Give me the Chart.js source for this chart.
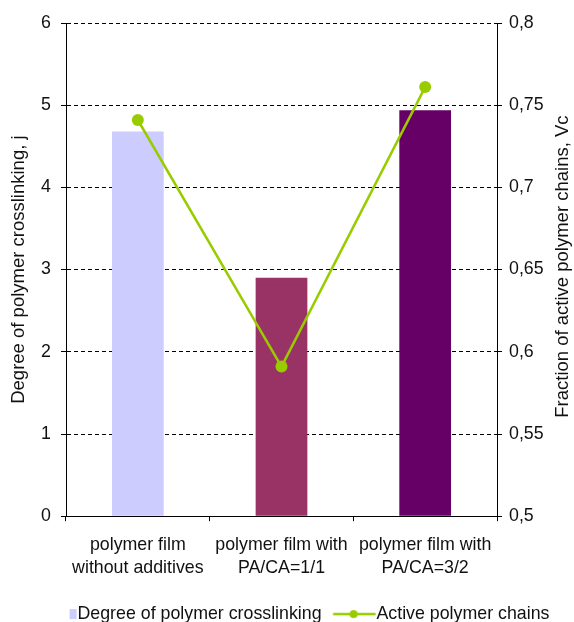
<!DOCTYPE html>
<html>
<head>
<meta charset="utf-8">
<script src="https://cdn.jsdelivr.net/npm/chart.js@4"></script>
<style>
  html, body { margin: 0; padding: 0; background: #fff; }
  #chart { display: block; }
</style>
</head>
<body>
<canvas id="chart" width="574" height="622"></canvas>
<script>
// Categories (two-line axis labels)
const categories = [
  ['polymer film', 'without additives'],
  ['polymer film with', 'PA/CA=1/1'],
  ['polymer film with', 'PA/CA=3/2']
];
// Degree of polymer crosslinking, j (left axis)
const crosslinking = [4.68, 2.90, 4.94];
// Fraction of active polymer chains, Vc (right axis)
const activeChains = [0.741, 0.591, 0.761];

const leftTickValues = [0, 1, 2, 3, 4, 5, 6];
const leftTickLabels = ['0', '1', '2', '3', '4', '5', '6'];
const rightTickValues = [0.5, 0.55, 0.6, 0.65, 0.7, 0.75, 0.8];
const rightTickLabels = ['0,5', '0,55', '0,6', '0,65', '0,7', '0,75', '0,8'];

const seriesNames = ['Degree of polymer crosslinking', 'Active polymer chains'];
const leftTitle = 'Degree of polymer crosslinking, j';
const rightTitle = 'Fraction of active polymer chains, Vc';

const barColors = ['#CCCCFF', '#993366', '#660066'];
const lineColor = '#99CC00';
const textColor = '#111';
const FONT = "'Liberation Sans', Arial, sans-serif";

Chart.defaults.font.family = FONT;
Chart.defaults.color = textColor;

// Legend swatches drawn on small offscreen canvases
function makeSwatch(draw) {
  const c = document.createElement('canvas');
  c.width = 64; c.height = 14;
  draw(c.getContext('2d'));
  return c;
}
const barSwatch = makeSwatch(g => {
  g.fillStyle = barColors[0];
  g.fillRect(55, 2, 7, 10);
});
const lineSwatch = makeSwatch(g => {
  g.strokeStyle = lineColor;
  g.lineWidth = 2.5;
  g.beginPath(); g.moveTo(19.5, 7); g.lineTo(62, 7); g.stroke();
  g.fillStyle = lineColor;
  g.beginPath(); g.arc(40, 7, 4, 0, Math.PI * 2); g.fill();
});

// Right-hand axis title, read bottom-to-top
const rightTitlePlugin = {
  id: 'rightTitle',
  afterDraw(chart) {
    const { ctx, chartArea } = chart;
    ctx.save();
    ctx.font = '18.5px ' + FONT;
    ctx.fillStyle = textColor;
    ctx.textAlign = 'center';
    ctx.textBaseline = 'middle';
    ctx.translate(563, (chartArea.top + chartArea.bottom) / 2 - 3);
    ctx.rotate(-Math.PI / 2);
    ctx.fillText(rightTitle, 0, 0);
    ctx.restore();
  }
};

new Chart(document.getElementById('chart'), {
  type: 'bar',
  data: {
    labels: categories,
    datasets: [
      {
        type: 'bar',
        label: seriesNames[0],
        data: crosslinking,
        yAxisID: 'y',
        backgroundColor: barColors,
        borderWidth: 0,
        categoryPercentage: 1,
        barPercentage: 0.36,
        order: 2
      },
      {
        type: 'line',
        label: seriesNames[1],
        data: activeChains,
        yAxisID: 'y1',
        borderColor: lineColor,
        backgroundColor: lineColor,
        borderWidth: 2.5,
        tension: 0,
        pointRadius: 6,
        pointHoverRadius: 6,
        pointBorderWidth: 0,
        pointBackgroundColor: lineColor,
        order: 1
      }
    ]
  },
  options: {
    responsive: false,
    animation: false,
    devicePixelRatio: 1,
    layout: { padding: { top: 23, left: 0, right: 0, bottom: -11 } },
    plugins: {
      tooltip: { enabled: false },
      legend: {
        position: 'bottom',
        labels: {
          usePointStyle: true,
          pointStyleWidth: 44,
          padding: 2,
          color: textColor,
          font: { size: 17.8 },
          generateLabels: chart => chart.data.datasets.map((ds, i) => ({
            text: ds.label,
            pointStyle: i === 0 ? barSwatch : lineSwatch,
            fillStyle: 'rgba(0,0,0,0)',
            strokeStyle: 'rgba(0,0,0,0)',
            lineWidth: 0,
            hidden: false,
            datasetIndex: i,
            fontColor: textColor
          }))
        }
      }
    },
    scales: {
      x: {
        offset: true,
        grid: {
          offset: true,
          drawOnChartArea: false,
          color: '#000',
          tickLength: 5,
          tickBorderDash: []
        },
        border: { color: '#000', width: 1 },
        ticks: {
          color: textColor,
          font: { size: 17.8, lineHeight: 1.3 },
          padding: 12,
          maxRotation: 0,
          autoSkip: false
        },
        afterFit: s => { s.height = 87; }
      },
      y: {
        position: 'left',
        min: 0,
        max: 6,
        afterBuildTicks: s => { s.ticks = leftTickValues.map(v => ({ value: v })); },
        ticks: {
          color: textColor,
          font: { size: 17.8 },
          padding: 10,
          callback: (v, i) => leftTickLabels[i]
        },
        grid: {
          color: '#000',
          lineWidth: 1,
          tickLength: 5,
          tickBorderDash: []
        },
        border: { color: '#000', width: 1, dash: [4, 3] },
        title: {
          display: true,
          text: leftTitle,
          color: textColor,
          font: { size: 18.5 },
          padding: { top: 8, bottom: 0 }
        },
        afterFit: s => { s.width = 66; }
      },
      y1: {
        position: 'right',
        min: 0.5,
        max: 0.8,
        afterBuildTicks: s => { s.ticks = rightTickValues.map(v => ({ value: v })); },
        ticks: {
          color: textColor,
          font: { size: 17.8 },
          padding: 7,
          callback: (v, i) => rightTickLabels[i]
        },
        grid: {
          drawOnChartArea: false,
          color: '#000',
          tickLength: 5,
          tickBorderDash: []
        },
        border: { color: '#000', width: 1 },
        afterFit: s => { s.width = 77; }
      }
    }
  },
  plugins: [rightTitlePlugin]
});
</script>
</body>
</html>
